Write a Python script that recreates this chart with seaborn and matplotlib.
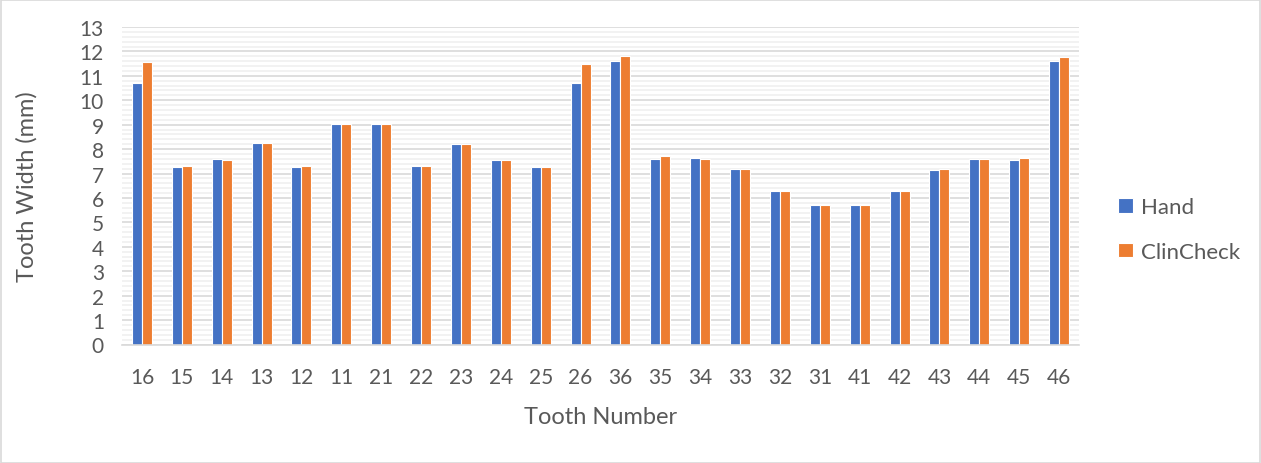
import matplotlib
matplotlib.use("Agg")
import matplotlib.pyplot as plt
from matplotlib.patches import Rectangle
from matplotlib.ticker import MultipleLocator
import pandas as pd
import seaborn as sns

teeth = ["16", "15", "14", "13", "12", "11", "21", "22", "23", "24", "25", "26",
         "36", "35", "34", "33", "32", "31", "41", "42", "43", "44", "45", "46"]
hand = [10.72, 7.27, 7.59, 8.27, 7.27, 9.04, 9.01, 7.30, 8.22, 7.55, 7.25, 10.72,
        11.59, 7.60, 7.64, 7.18, 6.29, 5.70, 5.70, 6.29, 7.15, 7.60, 7.57, 11.62]
clincheck = [11.57, 7.30, 7.56, 8.25, 7.30, 9.04, 9.01, 7.30, 8.22, 7.55, 7.27, 11.47,
             11.80, 7.70, 7.60, 7.18, 6.29, 5.70, 5.73, 6.29, 7.18, 7.60, 7.64, 11.77]
series = ["Hand", "ClinCheck"]
colors = ["#4472C4", "#ED7D31"]

df = pd.DataFrame({
    "Tooth": teeth * 2,
    "Width": hand + clincheck,
    "Series": [series[0]] * len(teeth) + [series[1]] * len(teeth),
})

sns.set_theme(style="white")
plt.rcParams["font.family"] = ["Lato", "DejaVu Sans"]
text_color = "#595959"

fig = plt.figure(figsize=(12.61, 4.64), dpi=100)
ax = fig.add_axes([122 / 1261, 1 - 345.5 / 464, (1079 - 122) / 1261, (345.5 - 28) / 464])

sns.barplot(data=df, x="Tooth", y="Width", hue="Series", order=teeth,
            hue_order=series, palette=colors, width=0.5, ax=ax,
            edgecolor="white", linewidth=0.8, saturation=1, legend=True)

ax.set_ylim(0, 13)
ax.set_xlim(-0.5, len(teeth) - 0.5)
ax.yaxis.set_major_locator(MultipleLocator(1))
ax.yaxis.set_minor_locator(MultipleLocator(0.2))
ax.grid(axis="y", which="major", color="#D9D9D9", linewidth=1.2, zorder=0)
ax.grid(axis="y", which="minor", color="#F0F0F0", linewidth=1.2, zorder=0)
ax.set_axisbelow(True)

for s in ["top", "right", "left"]:
    ax.spines[s].set_visible(False)
ax.spines["bottom"].set_color("#D9D9D9")
ax.spines["bottom"].set_linewidth(1.2)

ax.tick_params(axis="both", which="both", length=0, colors=text_color, labelsize=15)
ax.tick_params(axis="x", pad=16)
ax.tick_params(axis="y", pad=13)

ax.set_xlabel("Tooth Number", fontsize=17, color=text_color, labelpad=14)
ax.set_ylabel("Tooth Width (mm)", fontsize=17, color=text_color, labelpad=30)

handles, labels = ax.get_legend_handles_labels()
ax.legend(handles, labels, loc="center left", bbox_to_anchor=(1.02, 0.362),
          frameon=False, fontsize=16, labelcolor=text_color,
          handlelength=0.65, handleheight=0.65, handletextpad=0.4,
          labelspacing=1.1)

fig.patches.append(Rectangle((0.5 / 1261, 0.5 / 464), 1 - 1.5 / 1261, 1 - 1.5 / 464,
                             transform=fig.transFigure, fill=False,
                             edgecolor="#D9D9D9", linewidth=1.2))

fig.savefig("out.png", dpi=100, facecolor="white")
